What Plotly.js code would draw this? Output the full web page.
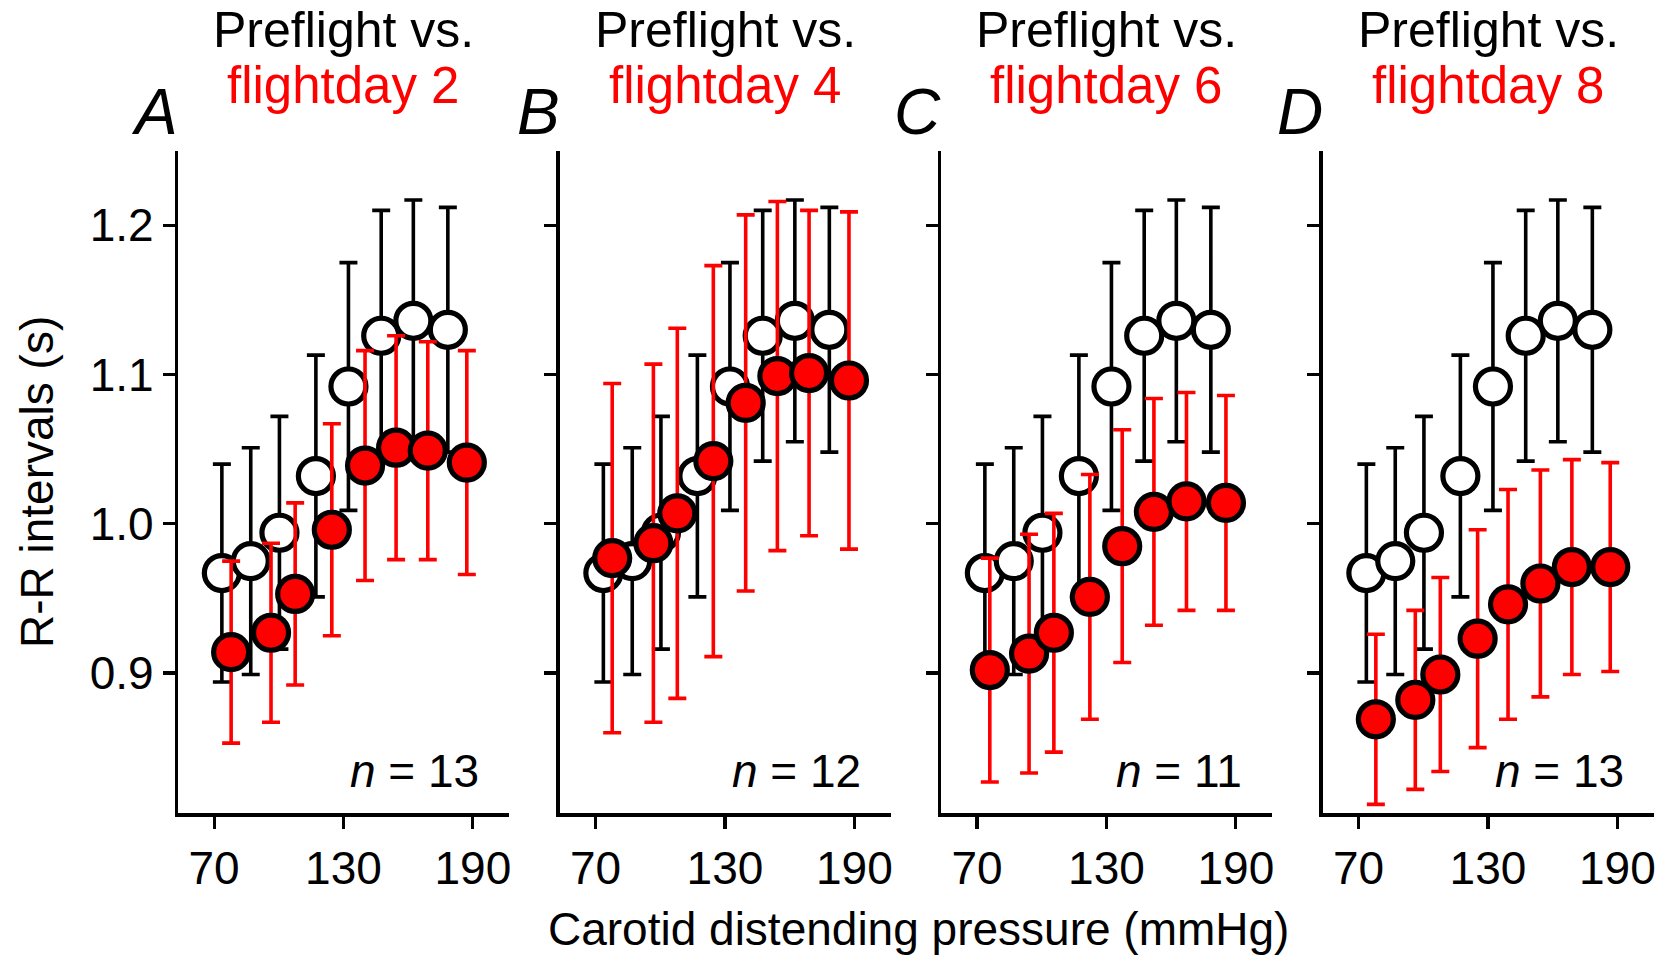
<!DOCTYPE html>
<html>
<head>
<meta charset="utf-8">
<script src="https://cdn.plot.ly/plotly-3.0.1.min.js"></script>
<style>
  html, body { margin: 0; padding: 0; background: #ffffff; }
  #chart { width: 1675px; height: 958px; }
</style>
</head>
<body>
<div id="chart"></div>
<script>
// Preflight baseline: carotid distending pressure (mmHg), mean R-R interval (s), SE (s)
const preflightPressure = [73.6, 87.0, 100.3, 117.2, 132.3, 147.5, 162.4, 178.4];
const preflightRR       = [0.967, 0.975, 0.994, 1.032, 1.092, 1.126, 1.136, 1.130];
const preflightSE       = [0.073, 0.076, 0.078, 0.081, 0.083, 0.084, 0.081, 0.082];

// Flight day 2
const fd2Pressure = [77.9, 96.4, 107.6, 124.6, 140.0, 154.4, 169.1, 187.2];
const fd2RR       = [0.914, 0.927, 0.953, 0.996, 1.039, 1.051, 1.049, 1.041];
const fd2SE       = [0.061, 0.060, 0.061, 0.071, 0.077, 0.075, 0.073, 0.075];

// Flight day 4
const fd4Pressure = [77.7, 96.8, 107.9, 124.6, 139.6, 154.3, 169.0, 187.5];
const fd4RR       = [0.977, 0.987, 1.007, 1.042, 1.081, 1.099, 1.101, 1.096];
const fd4SE       = [0.117, 0.120, 0.124, 0.131, 0.126, 0.117, 0.109, 0.113];

// Flight day 6
const fd6Pressure = [75.9, 94.1, 105.6, 122.3, 137.3, 152.0, 167.1, 185.4];
const fd6RR       = [0.902, 0.913, 0.927, 0.951, 0.985, 1.008, 1.015, 1.014];
const fd6SE       = [0.075, 0.080, 0.080, 0.082, 0.078, 0.076, 0.073, 0.072];

// Flight day 8
const fd8Pressure = [78.0, 96.3, 107.9, 125.2, 139.3, 154.3, 168.9, 186.7];
const fd8RR       = [0.869, 0.882, 0.899, 0.923, 0.946, 0.960, 0.971, 0.971];
const fd8SE       = [0.057, 0.060, 0.065, 0.073, 0.077, 0.076, 0.072, 0.070];

const panelLetters = ['A', 'B', 'C', 'D'];
const flightDayLabels = ['flightday 2', 'flightday 4', 'flightday 6', 'flightday 8'];
const subjectCounts = [13, 12, 11, 13];
const xTickValues = [70, 130, 190];
const yTickValues = [0.9, 1.0, 1.1, 1.2];

const flightSeries = [
  { x: fd2Pressure, y: fd2RR, se: fd2SE },
  { x: fd4Pressure, y: fd4RR, se: fd4SE },
  { x: fd6Pressure, y: fd6RR, se: fd6SE },
  { x: fd8Pressure, y: fd8RR, se: fd8SE }
];

// Page geometry (pixels)
const W = 1675, H = 958;
const plotLefts = [178.3, 559.8, 941.3, 1322.8];
const plotWidth = 331;
const plotTop = 150.7, plotBottom = 813.3;

const FONT = 'Liberation Sans, Arial, Helvetica, sans-serif';
const RED = '#ff0000';
const px = v => v / W;
const py = v => (H - v) / H;

const traces = [];
const layout = {
  width: W,
  height: H,
  margin: { l: 0, r: 0, t: 0, b: 0 },
  paper_bgcolor: '#ffffff',
  plot_bgcolor: '#ffffff',
  showlegend: false,
  font: { family: FONT, color: '#000000', size: 46 },
  annotations: []
};

flightSeries.forEach((s, i) => {
  const k = i === 0 ? '' : String(i + 1);
  const xa = 'x' + k, ya = 'y' + k;

  traces.push({
    type: 'scatter', mode: 'markers', xaxis: xa, yaxis: ya,
    x: preflightPressure, y: preflightRR,
    error_y: { type: 'data', array: preflightSE, visible: true,
               color: '#000000', thickness: 3.6, width: 9 },
    marker: { symbol: 'circle', size: 35, color: '#ffffff',
              line: { color: '#000000', width: 5.2 } },
    cliponaxis: false, hoverinfo: 'skip'
  });
  traces.push({
    type: 'scatter', mode: 'markers', xaxis: xa, yaxis: ya,
    x: s.x, y: s.y,
    error_y: { type: 'data', array: s.se, visible: true,
               color: RED, thickness: 3.6, width: 9 },
    marker: { symbol: 'circle', size: 35, color: RED,
              line: { color: '#000000', width: 5.2 } },
    cliponaxis: false, hoverinfo: 'skip'
  });

  const x0 = plotLefts[i], x1 = plotLefts[i] + plotWidth;
  layout['xaxis' + k] = {
    domain: [px(x0), px(x1)], anchor: ya,
    range: [53.4, 206.9],
    showgrid: false, zeroline: false,
    showline: true, linecolor: '#000000', linewidth: 3.4,
    ticks: 'outside', ticklen: 12, tickwidth: 3.2, tickcolor: '#000000',
    tickmode: 'array', tickvals: xTickValues,
    tickfont: { family: FONT, size: 46, color: '#000000' },
    fixedrange: true
  };
  layout['yaxis' + k] = {
    domain: [py(plotBottom), py(plotTop)], anchor: xa,
    range: [0.806, 1.25],
    showgrid: false, zeroline: false,
    showline: true, linecolor: '#000000', linewidth: 3.4,
    ticks: 'outside', ticklen: 12, tickwidth: 3.2, tickcolor: '#000000',
    tickmode: 'array', tickvals: yTickValues, tickformat: '.1f',
    showticklabels: i === 0,
    tickfont: { family: FONT, size: 46, color: '#000000' },
    fixedrange: true
  };

  const cx = px((x0 + x1) / 2);
  layout.annotations.push(
    { xref: 'paper', yref: 'paper', x: cx, y: py(30), xanchor: 'center', yanchor: 'middle',
      text: 'Preflight vs.', showarrow: false, font: { family: FONT, size: 50, color: '#000000' } },
    { xref: 'paper', yref: 'paper', x: cx, y: py(86), xanchor: 'center', yanchor: 'middle',
      text: flightDayLabels[i], showarrow: false, font: { family: FONT, size: 51, color: RED } },
    { xref: 'paper', yref: 'paper', x: px(x0 + 2), y: py(112), xanchor: 'right', yanchor: 'middle',
      text: '<i>' + panelLetters[i] + '</i>', showarrow: false, font: { family: FONT, size: 64, color: '#000000' } },
    { xref: 'paper', yref: 'paper', x: px(x1 - 28), y: py(771), xanchor: 'right', yanchor: 'middle',
      text: '<i>n</i> = ' + subjectCounts[i], showarrow: false, font: { family: FONT, size: 46, color: '#000000' } }
  );
});

layout.annotations.push(
  { xref: 'paper', yref: 'paper', x: px(37), y: py(482), xanchor: 'center', yanchor: 'middle',
    textangle: -90, text: 'R-R intervals (s)', showarrow: false,
    font: { family: FONT, size: 46, color: '#000000' } },
  { xref: 'paper', yref: 'paper', x: px(918), y: py(929), xanchor: 'center', yanchor: 'middle',
    text: 'Carotid distending pressure (mmHg)', showarrow: false,
    font: { family: FONT, size: 46, color: '#000000' } }
);

Plotly.newPlot('chart', traces, layout, { displayModeBar: false, staticPlot: true });
</script>
</body>
</html>
